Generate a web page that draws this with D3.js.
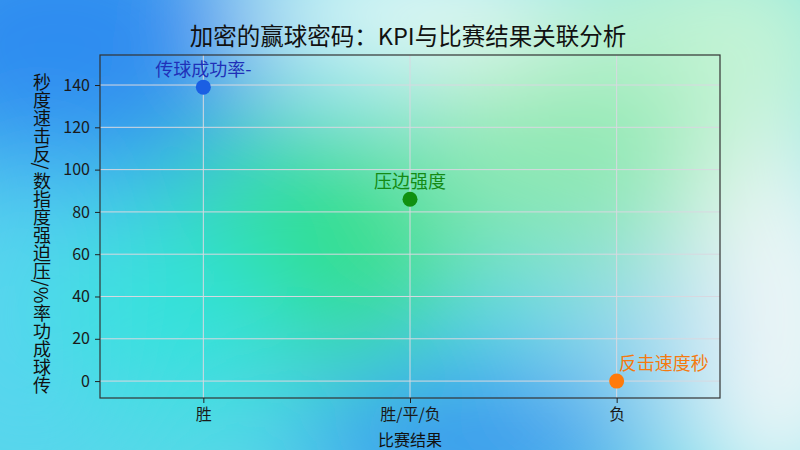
<!DOCTYPE html>
<html>
<head>
<meta charset="utf-8">
<script src="https://d3js.org/d3.v7.min.js"></script>
<style>
  body { margin: 0; }
  svg { display: block; font-family: "Noto Sans CJK SC", "Noto Sans", sans-serif; }
</style>
</head>
<body>
<svg width="800" height="450"></svg>
<script>
// chart data
var categories = ["胜", "胜/平/负", "负"];
var kpiNames = ["传球成功率-", "压边强度", "反击速度秒"];
var kpiValues = [139, 86, 0];
var yTicks = [0, 20, 40, 60, 80, 100, 120, 140];

var dotColors = ["#1b5fe3", "#109010", "#ff7a0a"];
var labelColors = ["#2030b8", "#148a14", "#f57a0f"];

var margin = {top: 55, right: 80, bottom: 52, left: 100},
    width = 800 - margin.left - margin.right,
    height = 450 - margin.top - margin.bottom;

var svg = d3.select("svg");

// soft blurred background
var defs = svg.append("defs");
defs.append("filter").attr("id", "blur")
    .attr("x", "-50%").attr("y", "-50%").attr("width", "200%").attr("height", "200%")
  .append("feGaussianBlur").attr("stdDeviation", 60);

svg.append("rect").attr("width", 800).attr("height", 450).attr("fill", "#58d8e8");
var blobs = svg.append("g").attr("filter", "url(#blur)");
var blobList = [
  {x: 60, y: 40, rx: 200, ry: 150, c: "#2f8cf0"},
  {x: 30, y: 320, rx: 120, ry: 160, c: "#58d4f0"},
  {x: 420, y: 10, rx: 180, ry: 70, c: "#f4fbf8"},
  {x: 720, y: 40, rx: 160, ry: 120, c: "#c6f4d6"},
  {x: 560, y: 160, rx: 160, ry: 110, c: "#8ee8b2"},
  {x: 300, y: 250, rx: 150, ry: 110, c: "#2ede84"},
  {x: 170, y: 310, rx: 120, ry: 90, c: "#30e2dc"},
  {x: 470, y: 445, rx: 170, ry: 70, c: "#3590ee"},
  {x: 780, y: 330, rx: 110, ry: 200, c: "#f4f8f8"},
  {x: 640, y: 330, rx: 90, ry: 70, c: "#a0d8f0"}
];
blobs.selectAll("ellipse").data(blobList).enter().append("ellipse")
    .attr("cx", function(d) { return d.x; })
    .attr("cy", function(d) { return d.y; })
    .attr("rx", function(d) { return d.rx; })
    .attr("ry", function(d) { return d.ry; })
    .attr("fill", function(d) { return d.c; });

var g = svg.append("g")
    .attr("transform", "translate(" + margin.left + "," + margin.top + ")");

var x = d3.scalePoint().domain(categories).range([0, width]).padding(0.5);
var y = d3.scaleLinear().domain([-8, 154.2]).range([height, 0]);

// grid
g.append("g").selectAll("line").data(yTicks).enter().append("line")
    .attr("x1", 0).attr("x2", width)
    .attr("y1", function(d) { return y(d); })
    .attr("y2", function(d) { return y(d); })
    .attr("stroke", "#d8d8e0").attr("stroke-width", 1);
g.append("g").selectAll("line").data(categories).enter().append("line")
    .attr("y1", 0).attr("y2", height)
    .attr("x1", function(d) { return x(d); })
    .attr("x2", function(d) { return x(d); })
    .attr("stroke", "#d8d8e0").attr("stroke-width", 1);

// frame
g.append("rect").attr("width", width).attr("height", height)
    .attr("fill", "none").attr("stroke", "#333").attr("stroke-width", 1.2);

// axes
var xAxis = g.append("g").attr("transform", "translate(0," + height + ")")
    .call(d3.axisBottom(x).tickSize(5).tickPadding(6));
var yAxis = g.append("g")
    .call(d3.axisLeft(y).tickValues(yTicks).tickSize(5).tickPadding(5));
[xAxis, yAxis].forEach(function(a) {
  a.select(".domain").remove();
  a.selectAll("line").attr("stroke", "#222");
  a.selectAll("text").attr("fill", "#1a1a1a").style("font-size", "16px")
      .style("font-family", "'Noto Sans CJK SC', sans-serif");
});

// points
g.selectAll("circle.pt").data(kpiValues).enter().append("circle")
    .attr("class", "pt")
    .attr("cx", function(d, i) { return x(categories[i]); })
    .attr("cy", function(d) { return y(d); })
    .attr("r", 7.5)
    .attr("fill", function(d, i) { return dotColors[i]; });

var anchors = ["middle", "middle", "start"];
var dx = [0, 0, 2];
g.selectAll("text.lbl").data(kpiValues).enter().append("text")
    .attr("class", "lbl")
    .attr("x", function(d, i) { return x(categories[i]) + dx[i]; })
    .attr("y", function(d) { return y(d) - 11; })
    .attr("text-anchor", function(d, i) { return anchors[i]; })
    .attr("fill", function(d, i) { return labelColors[i]; })
    .style("font-size", "18px")
    .text(function(d, i) { return kpiNames[i]; });

// title
svg.append("text").attr("x", 408).attr("y", 45)
    .attr("text-anchor", "middle").attr("fill", "#111")
    .style("font-size", "23.5px")
    .text("加密的赢球密码：KPI与比赛结果关联分析");

// x label
svg.append("text").attr("x", margin.left + width / 2).attr("y", 446)
    .attr("text-anchor", "middle").attr("fill", "#111")
    .style("font-size", "16px")
    .text("比赛结果");

// y label, one glyph per text, stacked top to bottom; latin glyphs turned sideways
var yLabel = "秒度速击反/数指度强迫压/%率功成球传".split("");
var fs = 18;
var stepOf = function(c) { return c === "/" ? 9 : (c === "%" ? 15 : fs); };
var total = d3.sum(yLabel, stepOf);
var yPos = [], acc = 232 - total / 2;
yLabel.forEach(function(c) { yPos.push(acc + stepOf(c) / 2); acc += stepOf(c); });
svg.append("g").selectAll("text").data(yLabel).enter().append("text")
    .attr("transform", function(d, i) {
      var t = "translate(42," + yPos[i] + ")";
      return /[\/%]/.test(d) ? t + " rotate(90)" : t;
    })
    .attr("text-anchor", "middle")
    .attr("dominant-baseline", "central")
    .attr("fill", "#111")
    .style("font-size", fs + "px")
    .text(function(d) { return d; });
</script>
</body>
</html>
